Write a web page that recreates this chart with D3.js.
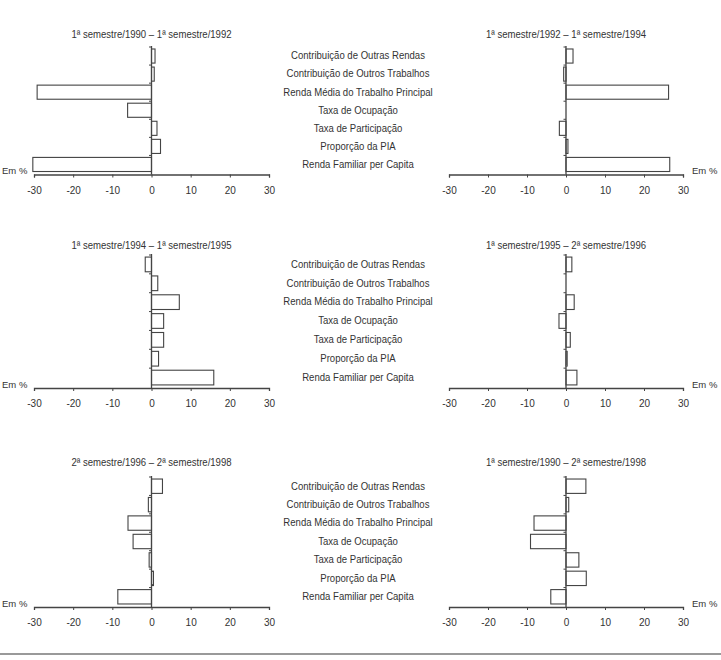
<!DOCTYPE html>
<html><head><meta charset="utf-8">
<script src="https://cdn.jsdelivr.net/npm/d3@7"></script>
<style>
html,body{margin:0;padding:0;background:#fff;}
svg{display:block;}
text{font-family:"Liberation Sans","Arial",sans-serif;fill:#333;}
</style></head>
<body>
<svg id="chart" width="721" height="660"></svg>
<script>
const categories = [
  "Contribuição de Outras Rendas",
  "Contribuição de Outros Trabalhos",
  "Renda Média do Trabalho Principal",
  "Taxa de Ocupação",
  "Taxa de Participação",
  "Proporção da PIA",
  "Renda Familiar per Capita"
];
const periods = [
  "1ª semestre/1990 – 1ª semestre/1992",
  "1ª semestre/1992 – 1ª semestre/1994",
  "1ª semestre/1994 – 1ª semestre/1995",
  "1ª semestre/1995 – 2ª semestre/1996",
  "2ª semestre/1996 – 2ª semestre/1998",
  "1ª semestre/1990 – 2ª semestre/1998"
];
const values_1990_1992 = [0.9, 0.7, -29.2, -6.1, 1.4, 2.3, -30.3];
const values_1992_1994 = [1.8, -0.6, 26.3, 0, -1.7, 0.5, 26.6];
const values_1994_1995 = [-1.6, 1.6, 7.1, 3.1, 3.1, 1.8, 15.9];
const values_1995_1996 = [1.5, 0, 2.1, -1.8, 1.1, 0.3, 2.8];
const values_1996_1998 = [2.8, -0.8, -6.0, -4.7, -0.6, 0.5, -8.6];
const values_1990_1998 = [5.1, 0.7, -8.2, -9.1, 3.3, 5.2, -3.9];
const tickValues = [-30, -20, -10, 0, 10, 20, 30];
const unitLabel = "Em %";

const series = [values_1990_1992, values_1992_1994, values_1994_1995,
                values_1995_1996, values_1996_1998, values_1990_1998];

const svg = d3.select("#chart");
const rows = [
  {axisY: 174.5, top: 47, title: 34},
  {axisY: 388, top: 255, title: 245},
  {axisY: 607, top: 477, title: 462}
];
const cols = [
  {x0: 34, x1: 269, side: "left"},
  {x0: 449, x1: 683, side: "right"}
];
const NARROW = 0.87;

series.forEach((vals, i) => {
  const r = rows[Math.floor(i / 2)], c = cols[i % 2];
  const x = d3.scaleLinear().domain([-30, 30]).range([c.x0, c.x1]);
  const y = d3.scaleBand().domain(categories).range([r.top, r.axisY - 1]).paddingInner(0.22).paddingOuter(0.11);
  const g = svg.append("g");

  // bars
  g.selectAll("rect").data(vals).join("rect")
    .attr("x", d => x(Math.min(0, d)))
    .attr("width", d => Math.abs(x(d) - x(0)))
    .attr("y", (d, k) => y(categories[k]))
    .attr("height", y.bandwidth())
    .attr("fill", "#fff")
    .attr("stroke", "#444")
    .attr("stroke-width", 1.1);

  // x axis
  const xa = g.append("g").attr("transform", `translate(0,${r.axisY})`)
    .call(d3.axisBottom(x).tickValues(tickValues).tickSize(3).tickPadding(9).tickFormat(d => String(d)));
  xa.select(".domain").attr("stroke", "#444").attr("stroke-width", 1.3);
  xa.selectAll(".tick line").attr("stroke", "#444");
  xa.selectAll(".tick text").attr("fill", "#333")
    .attr("font-family", "'Liberation Sans',sans-serif").attr("font-size", 10);

  // zero axis with band ticks
  const step = y.step();
  const bounds = d3.range(categories.length).map(k => y(categories[k]) - step * 0.11);
  g.append("line").attr("x1", x(0)).attr("x2", x(0))
    .attr("y1", r.top - 1).attr("y2", r.axisY)
    .attr("stroke", "#444").attr("stroke-width", 1.3);
  g.selectAll(".bt").data(bounds).join("line").attr("class", "bt")
    .attr("x1", x(0) - 2.5).attr("x2", x(0))
    .attr("y1", d => d).attr("y2", d => d)
    .attr("stroke", "#444");

  // title
  g.append("text").attr("transform", `translate(${x(0)},${r.title}) scale(${NARROW},1)`)
    .attr("dy", "0.35em")
    .attr("text-anchor", "middle").attr("font-size", 11).text(periods[i]);

  // unit label
  g.append("text").attr("x", c.side === "left" ? 2 : 692).attr("y", r.axisY - 0.5)
    .attr("font-size", 9.5).text(unitLabel);

  // category labels between columns
  if (i % 2 === 0) {
    g.selectAll(".cl").data(categories).join("text").attr("class", "cl")
      .attr("transform", d => `translate(358,${y(d) + y.bandwidth() / 2 - 0.5}) scale(${NARROW},1)`)
      .attr("dy", "0.35em")
      .attr("text-anchor", "middle").attr("font-size", 11).text(d => d);
  }
});

svg.append("line").attr("x1", 0).attr("x2", 721).attr("y1", 654).attr("y2", 654)
  .attr("stroke", "#777").attr("stroke-width", 1.5);
</script>
</body></html>
